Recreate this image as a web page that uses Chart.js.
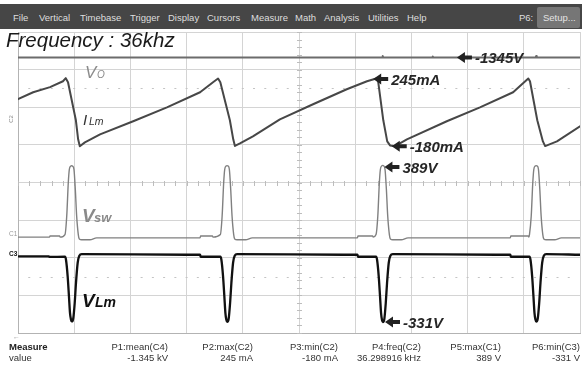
<!DOCTYPE html>
<html><head><meta charset="utf-8">
<script src="https://cdn.jsdelivr.net/npm/chart.js@4.4.1/dist/chart.umd.min.js"></script>
<style>
html,body{margin:0;padding:0;background:#fff;}
#wrap{position:relative;width:582px;height:367px;overflow:hidden;font-family:"Liberation Sans",Arial,Helvetica,sans-serif;}
#c{position:absolute;left:0;top:0;}
.t{position:absolute;white-space:nowrap;line-height:1;}
#bar{position:absolute;left:0;top:4px;width:582px;height:25px;background:#464646;}
#setup{position:absolute;left:537px;top:7px;width:43px;height:21px;background:#767676;border-radius:2px;}
</style>
</head><body>
<div id="wrap">
<canvas id="c" width="582" height="367"></canvas>
<div id="bar"></div><div id="setup"></div>
</div>
<script>
// ---- time axis (µs), 10 divisions of 10 µs ----
const timeMin = 0, timeMax = 100;

// ---- channel scales (units per division, zero position in divisions) ----
const C1 = {perDiv: 204, zeroDiv: 2.547};   // Vsw  (V)
const C2 = {perDiv: 235, zeroDiv: 5.73};    // ILm  (mA)
const C3 = {perDiv: 188, zeroDiv: 2.053};   // VLm  (V)
const C4 = {perDiv: 500, zeroDiv: 10.01};   // Vo   (V)

// ---- C4 : output voltage Vo (V) ----
const voTime  = [0, 64.8, 64.9, 65.0, 73.7, 73.8, 73.9, 92.1, 92.2, 92.3, 100];
const voVolts = [-1345, -1345, -1325, -1345, -1345, -1330, -1345, -1345, -1325, -1345, -1345];

// ---- C2 : magnetizing current ILm (mA) ----
const ilmTime = [0, 2.7, 5.7, 8.0, 8.5, 8.9, 10.3, 10.7, 11.0, 11.9, 14.6, 20.5, 26.5, 32.4, 34.7, 35.6,
  36.0, 37.7, 38.3, 38.6, 39.5, 41.8, 46.6, 52.5, 58.5, 62.1, 63.9,
  64.1, 65.0, 65.7, 66.2, 67.1, 69.2, 76.3, 82.2, 88.1, 90.8,
  91.1, 92.4, 93.4, 93.8, 95.9, 100];
const ilmCurrent = [114, 157, 189, 226, 245, 220, -18, -137, -180, -156, -106, -24, 63, 157, 220, 243,
  220, -18, -137, -178, -162, -118, -12, 82, 176, 226, 245,
  220, -18, -150, -175, -180, -137, -24, 63, 157, 243,
  226, -18, -150, -179, -150, -56];

// ---- C1 : switch voltage Vsw (V) ----
const vswTime = [0, 5.6, 5.7, 7.4, 7.5,
  8.36, 8.67, 8.95, 9.13, 9.38, 9.55, 9.73, 9.96, 10.2, 10.44, 10.73, 10.91, 11.33, 12.8, 14.0,
  32.4, 32.5, 34.6, 34.7,
  36.01, 36.32, 36.6, 36.78, 37.03, 37.2, 37.38, 37.61, 37.85, 38.09, 38.38, 38.56, 38.98, 40.5, 41.7,
  60.4, 60.5, 63.1, 63.2,
  63.71, 64.02, 64.3, 64.48, 64.73, 64.9, 65.08, 65.31, 65.55, 65.79, 66.08, 66.26, 66.68, 68.2, 69.4,
  87.6, 87.7, 90.8, 90.9,
  91.01, 91.32, 91.6, 91.78, 92.03, 92.2, 92.38, 92.61, 92.85, 93.09, 93.38, 93.56, 93.98, 95.5, 96.7, 100];
const vswVolts = [0, 0, 6, 6, 0,
  14, 113, 296, 367, 385, 387, 385, 367, 258, 113, 14, -10, -14, -14, -4,
  -4, 6, 6, 0,
  14, 113, 296, 367, 386, 388, 386, 367, 258, 113, 14, -10, -14, -14, -4,
  -4, 6, 6, 0,
  14, 113, 296, 367, 386, 389, 386, 367, 258, 113, 14, -10, -14, -14, -4,
  -4, 6, 6, 0,
  14, 113, 296, 367, 386, 388, 386, 367, 258, 113, 14, -10, -14, -14, -4, -4];

// ---- C3 : magnetizing-inductance voltage VLm (V) ----
const vlmTime = [0, 5.5, 5.6,
  8.36, 8.54, 8.84, 9.07, 9.25, 9.42, 9.56, 9.70, 9.84, 10.09, 10.32, 10.62, 10.91, 11.33, 30.0, 32.4, 32.5,
  36.01, 36.19, 36.49, 36.72, 36.9, 37.07, 37.21, 37.35, 37.49, 37.74, 37.97, 38.27, 38.56, 38.98, 58.0, 60.4, 60.5,
  63.71, 63.89, 64.19, 64.42, 64.6, 64.77, 64.91, 65.05, 65.19, 65.44, 65.67, 65.97, 66.26, 66.68, 85.0, 87.6, 87.7,
  91.01, 91.19, 91.49, 91.72, 91.9, 92.07, 92.21, 92.35, 92.49, 92.74, 92.97, 93.27, 93.56, 93.98, 100];
const vlmVolts = [-3, -3, -6,
  -5, -20, -104, -204, -285, -318, -328, -326, -312, -236, -135, -35, 0, 8, 5, 5, -5,
  -5, -20, -104, -204, -285, -320, -330, -328, -314, -236, -135, -35, 0, 8, 5, 5, -5,
  -5, -20, -104, -204, -285, -321, -331, -329, -315, -236, -135, -35, 0, 8, 5, 5, -5,
  -5, -20, -104, -204, -285, -319, -329, -327, -313, -236, -135, -35, 0, 8, 5];

// ---- annotations (time µs, channel, value, text) ----
const noteTime  = [78.1, 63.2, 66.5, 65.2, 65.3];
const noteChan  = ['C4', 'C2', 'C2', 'C1', 'C3'];
const noteValue = [-1345, 240, -180, 380, -331];
const noteText  = ['-1345V', '245mA', '-180mA', '389V', '-331V'];

// ---- menu & measurement texts ----
const menuItems = ['File', 'Vertical', 'Timebase', 'Trigger', 'Display', 'Cursors', 'Measure', 'Math', 'Analysis', 'Utilities', 'Help'];
const measLabels = ['P1:mean(C4)', 'P2:max(C2)', 'P3:min(C2)', 'P4:freq(C2)', 'P5:max(C1)', 'P6:min(C3)'];
const measValues = ['-1.345 kV', '245 mA', '-180 mA', '36.298916 kHz', '389 V', '-331 V'];

const CH = {C1, C2, C3, C4};
function toDiv(ch, v) { return ch.zeroDiv + v / ch.perDiv; }
function pts(ts, vs, ch) { return ts.map((t, i) => ({x: t, y: toDiv(ch, vs[i])})); }

const scopePlugin = {
  id: 'scope',
  beforeDatasetsDraw(chart) {
    const {ctx, scales: {x, y}} = chart;
    ctx.save();
    ctx.strokeStyle = '#bdbdbd';
    ctx.lineWidth = 1;
    const cx = Math.round(x.getPixelForValue(50)) + 0.5;
    const cy = Math.round(y.getPixelForValue(4)) + 0.5;
    ctx.beginPath();
    for (let k = 0; k <= 40; k++) {
      const py = Math.round(y.getPixelForValue(k * 0.2)) + 0.5;
      ctx.moveTo(cx - 2.5, py); ctx.lineTo(cx + 2.5, py);
    }
    for (let k = 0; k <= 50; k++) {
      const px = Math.round(x.getPixelForValue(k * 2)) + 0.5;
      ctx.moveTo(px, cy - 2.5); ctx.lineTo(px, cy + 2.5);
    }
    ctx.stroke();
    ctx.strokeStyle = '#c4c4c4';
    ctx.beginPath();
    [6.5, 1.5].forEach(d => {
      const py = Math.round(y.getPixelForValue(d)) + 0.5;
      for (let k = 1; k < 50; k++) {
        const px = x.getPixelForValue(k * 2);
        ctx.moveTo(px - 1, py); ctx.lineTo(px + 1, py);
      }
    });
    ctx.stroke();
    ctx.restore();
  },
  afterDraw(chart) {
    const {ctx, scales: {x, y}} = chart;
    ctx.save();
    ctx.fillStyle = '#222';
    noteTime.forEach((t, i) => {
      const px = x.getPixelForValue(t);
      const py = y.getPixelForValue(toDiv(CH[noteChan[i]], noteValue[i]));
      ctx.beginPath();
      ctx.moveTo(px, py);
      ctx.lineTo(px + 8, py - 5.5);
      ctx.lineTo(px + 8, py - 2);
      ctx.lineTo(px + 15, py - 2);
      ctx.lineTo(px + 15, py + 2);
      ctx.lineTo(px + 8, py + 2);
      ctx.lineTo(px + 8, py + 5.5);
      ctx.closePath();
      ctx.fill();
    });
    ctx.restore();
  }
};

const chart = new Chart(document.getElementById('c'), {
  type: 'line',
  data: {datasets: [
    {label: 'Vo', data: pts(voTime, voVolts, C4), borderColor: '#6c6c6c', borderWidth: 2, tension: 0},
    {label: 'ILm', data: pts(ilmTime, ilmCurrent, C2), borderColor: '#474747', borderWidth: 2, tension: 0},
    {label: 'VLm', data: pts(vlmTime, vlmVolts, C3), borderColor: '#111111', borderWidth: 2.3, cubicInterpolationMode: 'monotone'},
    {label: 'Vsw', data: pts(vswTime, vswVolts, C1), borderColor: '#808080', borderWidth: 1.4, cubicInterpolationMode: 'monotone'}
  ]},
  options: {
    responsive: false, animation: false, devicePixelRatio: 1,
    layout: {padding: {left: 18, right: 2, top: 32, bottom: 34}},
    elements: {point: {radius: 0}, line: {borderJoinStyle: 'round', borderCapStyle: 'round'}},
    plugins: {legend: {display: false}, tooltip: {enabled: false}},
    scales: {
      x: {type: 'linear', min: timeMin, max: timeMax,
          ticks: {display: false, stepSize: 10}, grid: {color: '#d4d4d4', drawTicks: false},
          border: {color: '#b3b3b3'}, afterFit(s) { s.height = 0; }},
      y: {type: 'linear', min: 0, max: 8,
          ticks: {display: false, stepSize: 1}, grid: {color: '#d4d4d4', drawTicks: false},
          border: {color: '#b3b3b3'}, afterFit(s) { s.width = 0; }}
    }
  },
  plugins: [scopePlugin]
});

// ---- text overlays ----
const wrap = document.getElementById('wrap');
function addText(str, left, baseline, size, style, opts) {
  const d = document.createElement('div');
  d.className = 't';
  d.textContent = str;
  d.style.fontSize = size + 'px';
  d.style.top = (baseline - 0.8465 * size) + 'px';
  if (opts && opts.right !== undefined) { d.style.right = (582 - opts.right) + 'px'; }
  else d.style.left = left + 'px';
  Object.assign(d.style, style || {});
  wrap.appendChild(d);
  return d;
}
const menuLeft = [13, 39, 80, 130, 168, 207, 251, 295, 324, 368, 407];
menuItems.forEach((m, i) => addText(m, menuLeft[i], 21, 9.5, {color: '#dedede'}));
addText('P6:', 519, 21, 9.5, {color: '#dedede'});
addText('Setup...', 543, 21, 9.5, {color: '#e4e4e4'});

addText('Frequency : 36khz', 6, 47.5, 20.5, {fontStyle: 'italic', color: '#1a1a1a'});

// trace names
addText('V', 85, 78, 17, {fontStyle: 'italic', color: '#8c8c8c'});
addText('O', 97, 78, 10, {fontStyle: 'italic', color: '#8c8c8c'});
addText('I', 83, 125, 15, {fontStyle: 'italic', color: '#333'});
addText('Lm', 89, 125, 10.5, {fontStyle: 'italic', color: '#333'});
addText('V', 82, 222, 19, {fontStyle: 'italic', fontWeight: 'bold', color: '#8a8a8a'});
addText('sw', 94, 222, 13, {fontStyle: 'italic', fontWeight: 'bold', color: '#8a8a8a'});
addText('V', 82, 307, 19, {fontStyle: 'italic', fontWeight: 'bold', color: '#111'});
addText('Lm', 95, 307, 14, {fontStyle: 'italic', fontWeight: 'bold', color: '#111'});

// annotation labels, anchored to arrow tips
noteTime.forEach((t, i) => {
  const px = chart.scales.x.getPixelForValue(t);
  const py = chart.scales.y.getPixelForValue(toDiv(CH[noteChan[i]], noteValue[i]));
  addText(noteText[i], px + 18, py + 5.5, 15, {fontStyle: 'italic', fontWeight: 'bold', color: '#262626'});
});

// channel markers at left
const c2 = addText('C2', 7, 121, 6, {color: '#888'}); c2.style.transform = 'rotate(-90deg)';
addText('C1', 9, 237, 6.5, {color: '#999'});
addText('C3', 9, 257, 6.5, {color: '#111', fontWeight: 'bold'});
addText('\u2190', 13, 339, 7, {color: '#999'});

// measurement table
addText('Measure', 9, 350, 9.5, {fontWeight: 'bold', color: '#222'});
addText('value', 9, 361, 9.5, {color: '#333'});
const measRight = [168, 253, 338, 421, 501, 580];
measLabels.forEach((m, i) => {
  addText(m, 0, 350, 9.5, {color: '#333'}, {right: measRight[i]});
  addText(measValues[i], 0, 361, 9.5, {color: '#333'}, {right: measRight[i]});
});
</script>
</body></html>
